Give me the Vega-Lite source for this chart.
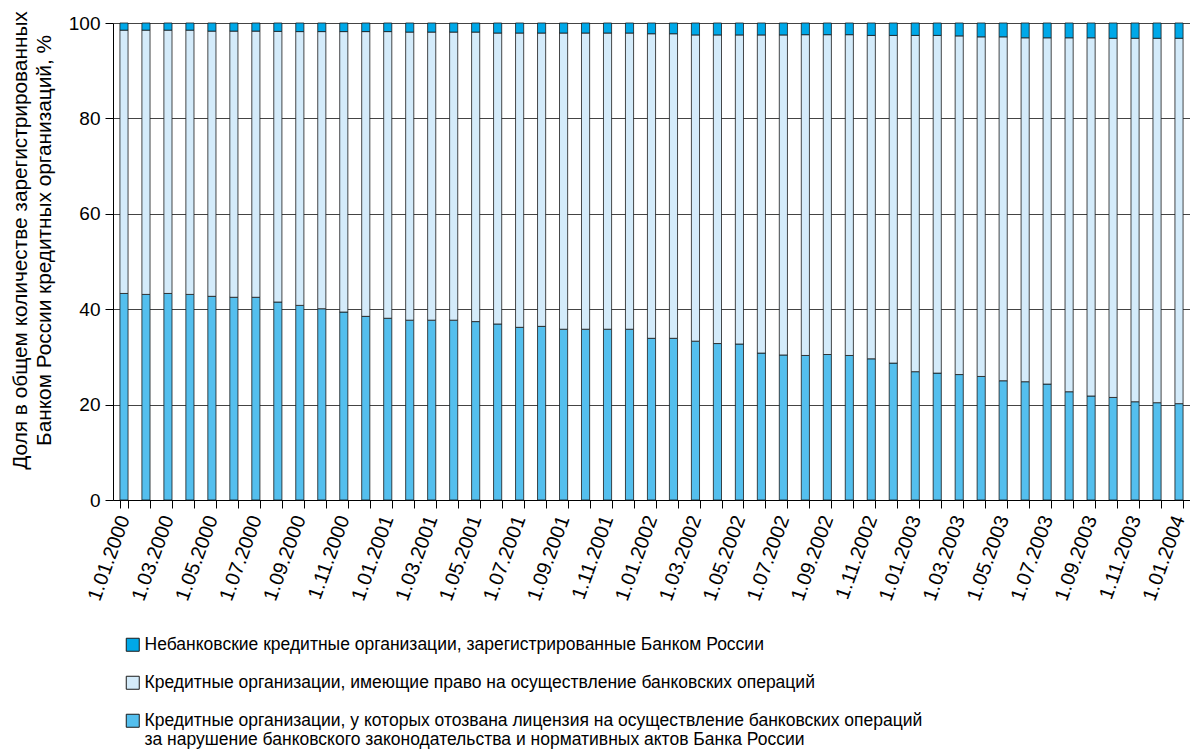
{
  "$schema": "https://vega.github.io/schema/vega-lite/v6.json",
  "width": 1077,
  "height": 477,
  "autosize": {"type": "none"},
  "padding": {"left": 113, "top": 23, "right": 0, "bottom": 256},
  "background": "white",
  "config": {
    "font": "Liberation Sans",
    "view": {"stroke": null}
  },
  "data": {
    "values": [
      {"date": "1.01.2000", "revoked": 43.3, "licensed": 55.2, "nonbank": 1.5},
      {"date": "1.02.2000", "revoked": 43.1, "licensed": 55.4, "nonbank": 1.5},
      {"date": "1.03.2000", "revoked": 43.3, "licensed": 55.2, "nonbank": 1.5},
      {"date": "1.04.2000", "revoked": 43.1, "licensed": 55.4, "nonbank": 1.5},
      {"date": "1.05.2000", "revoked": 42.7, "licensed": 55.6, "nonbank": 1.7},
      {"date": "1.06.2000", "revoked": 42.5, "licensed": 55.8, "nonbank": 1.7},
      {"date": "1.07.2000", "revoked": 42.5, "licensed": 55.8, "nonbank": 1.7},
      {"date": "1.08.2000", "revoked": 41.5, "licensed": 56.75, "nonbank": 1.75},
      {"date": "1.09.2000", "revoked": 40.8, "licensed": 57.4, "nonbank": 1.8},
      {"date": "1.10.2000", "revoked": 40.1, "licensed": 58.1, "nonbank": 1.8},
      {"date": "1.11.2000", "revoked": 39.4, "licensed": 58.8, "nonbank": 1.8},
      {"date": "1.12.2000", "revoked": 38.5, "licensed": 59.7, "nonbank": 1.8},
      {"date": "1.01.2001", "revoked": 38.1, "licensed": 60.1, "nonbank": 1.8},
      {"date": "1.02.2001", "revoked": 37.7, "licensed": 60.4, "nonbank": 1.9},
      {"date": "1.03.2001", "revoked": 37.7, "licensed": 60.4, "nonbank": 1.9},
      {"date": "1.04.2001", "revoked": 37.7, "licensed": 60.4, "nonbank": 1.9},
      {"date": "1.05.2001", "revoked": 37.4, "licensed": 60.7, "nonbank": 1.9},
      {"date": "1.06.2001", "revoked": 36.9, "licensed": 61.0, "nonbank": 2.1},
      {"date": "1.07.2001", "revoked": 36.2, "licensed": 61.7, "nonbank": 2.1},
      {"date": "1.08.2001", "revoked": 36.4, "licensed": 61.5, "nonbank": 2.1},
      {"date": "1.09.2001", "revoked": 35.8, "licensed": 62.1, "nonbank": 2.1},
      {"date": "1.10.2001", "revoked": 35.8, "licensed": 62.1, "nonbank": 2.1},
      {"date": "1.11.2001", "revoked": 35.8, "licensed": 62.1, "nonbank": 2.1},
      {"date": "1.12.2001", "revoked": 35.8, "licensed": 62.1, "nonbank": 2.1},
      {"date": "1.01.2002", "revoked": 33.9, "licensed": 63.85, "nonbank": 2.25},
      {"date": "1.02.2002", "revoked": 33.9, "licensed": 63.85, "nonbank": 2.25},
      {"date": "1.03.2002", "revoked": 33.3, "licensed": 64.2, "nonbank": 2.5},
      {"date": "1.04.2002", "revoked": 32.8, "licensed": 64.7, "nonbank": 2.5},
      {"date": "1.05.2002", "revoked": 32.7, "licensed": 64.8, "nonbank": 2.5},
      {"date": "1.06.2002", "revoked": 30.8, "licensed": 66.7, "nonbank": 2.5},
      {"date": "1.07.2002", "revoked": 30.4, "licensed": 67.1, "nonbank": 2.5},
      {"date": "1.08.2002", "revoked": 30.3, "licensed": 67.25, "nonbank": 2.45},
      {"date": "1.09.2002", "revoked": 30.5, "licensed": 67.05, "nonbank": 2.45},
      {"date": "1.10.2002", "revoked": 30.3, "licensed": 67.25, "nonbank": 2.45},
      {"date": "1.11.2002", "revoked": 29.6, "licensed": 67.8, "nonbank": 2.6},
      {"date": "1.12.2002", "revoked": 28.7, "licensed": 68.7, "nonbank": 2.6},
      {"date": "1.01.2003", "revoked": 26.9, "licensed": 70.5, "nonbank": 2.6},
      {"date": "1.02.2003", "revoked": 26.6, "licensed": 70.8, "nonbank": 2.6},
      {"date": "1.03.2003", "revoked": 26.3, "licensed": 71.0, "nonbank": 2.7},
      {"date": "1.04.2003", "revoked": 25.9, "licensed": 71.2, "nonbank": 2.9},
      {"date": "1.05.2003", "revoked": 25.0, "licensed": 72.1, "nonbank": 2.9},
      {"date": "1.06.2003", "revoked": 24.8, "licensed": 72.1, "nonbank": 3.1},
      {"date": "1.07.2003", "revoked": 24.3, "licensed": 72.6, "nonbank": 3.1},
      {"date": "1.08.2003", "revoked": 22.7, "licensed": 74.2, "nonbank": 3.1},
      {"date": "1.09.2003", "revoked": 21.8, "licensed": 75.1, "nonbank": 3.1},
      {"date": "1.10.2003", "revoked": 21.5, "licensed": 75.3, "nonbank": 3.2},
      {"date": "1.11.2003", "revoked": 20.6, "licensed": 76.2, "nonbank": 3.2},
      {"date": "1.12.2003", "revoked": 20.4, "licensed": 76.4, "nonbank": 3.2},
      {"date": "1.01.2004", "revoked": 20.2, "licensed": 76.6, "nonbank": 3.2}
    ]
  },
  "transform": [
    {"fold": ["revoked", "licensed", "nonbank"], "as": ["series", "share"]},
    {"calculate": "indexof(['revoked','licensed','nonbank'], datum.series)", "as": "stackOrder"}
  ],
  "mark": {"type": "bar", "stroke": "#1a1a1a", "strokeWidth": 0.8},
  "encoding": {
    "x": {
      "field": "date",
      "type": "nominal",
      "sort": null,
      "scale": {"paddingInner": 0.63, "paddingOuter": 0.315},
      "axis": {
        "title": null,
        "tickBand": "extent",
        "labelExpr": "toNumber(split(datum.value, '.')[1]) % 2 == 1 ? datum.value : ''",
        "labelAngle": -70,
        "labelFontSize": 20,
        "labelColor": "#000",
        "labelPadding": 8,
        "labelOverlap": false,
        "labelBound": false,
        "tickSize": 8,
        "tickColor": "#000",
        "domainColor": "#000",
        "grid": false
      }
    },
    "y": {
      "field": "share",
      "type": "quantitative",
      "stack": "zero",
      "scale": {"domain": [0, 100], "nice": false},
      "axis": {
        "values": [0, 20, 40, 60, 80, 100],
        "title": ["Доля в общем количестве зарегистрированных", "Банком России кредитных организаций, %"],
        "titleFontSize": 20.8,
        "titleFontWeight": "normal",
        "titleColor": "#000",
        "titleLineHeight": 24,
        "titlePadding": 14,
        "titleY": 217,
        "labelFontSize": 19,
        "labelColor": "#000",
        "labelPadding": 5,
        "tickSize": 8,
        "tickColor": "#000",
        "domainColor": "#000",
        "grid": true,
        "gridColor": "#444",
        "gridWidth": 1
      }
    },
    "color": {
      "field": "series",
      "type": "nominal",
      "scale": {
        "domain": ["nonbank", "licensed", "revoked"],
        "range": ["#00a8e8", "#d4ebfa", "#54bfee"]
      },
      "legend": {
        "title": null,
        "orient": "none",
        "legendX": 11,
        "legendY": 613,
        "direction": "vertical",
        "symbolType": "square",
        "symbolSize": 169,
        "symbolStrokeColor": "#1a1a1a",
        "symbolStrokeWidth": 1,
        "labelFontSize": 17.5,
        "labelColor": "#000",
        "labelLimit": 1000,
        "labelOffset": 3,
        "rowPadding": 19,
        "labelExpr": "datum.label == 'nonbank' ? 'Небанковские кредитные организации, зарегистрированные Банком России' : datum.label == 'licensed' ? 'Кредитные организации, имеющие право на осуществление банковских операций' : ['Кредитные организации, у которых отозвана лицензия на осуществление банковских операций', 'за нарушение банковского законодательства и нормативных актов Банка России']"
      }
    },
    "order": {"field": "stackOrder", "type": "quantitative", "sort": "ascending"}
  }
}
